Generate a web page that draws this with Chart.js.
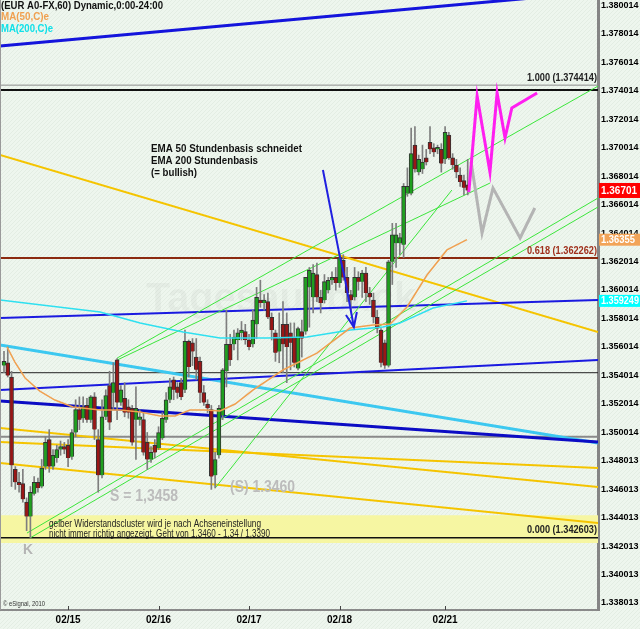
<!DOCTYPE html>
<html>
<head>
<meta charset="utf-8">
<script src="https://cdn.jsdelivr.net/npm/chart.js@4"></script>
<style>
  html, body { margin: 0; padding: 0; background: #eef5ee; }
  canvas { display: block; }
</style>
</head>
<body>
<canvas id="chart" width="640" height="629"></canvas>
<script>
// EUR/USD 60 min (eSignal) - hourly candles, index 0 = first bar on screen

const opens = [
  1.3547,1.3549,1.3539,1.3474,1.3465,1.3464,1.3451,1.3441,1.3457,1.3465,
  1.3462,1.3476,1.3495,1.3476,1.3482,1.3488,1.3490,1.3491,1.3483,1.3500,
  1.3516,1.3510,1.3519,1.3509,1.3525,1.3495,1.3470,1.3511,1.3533,1.3528,
  1.3551,1.3521,1.3524,1.3518,1.3517,1.3509,1.3509,1.3509,1.3493,1.3481,
  1.3491,1.3489,1.3496,1.3509,1.3523,1.3537,1.3532,1.3535,1.3530,1.3564,
  1.3563,1.3553,1.3550,1.3528,1.3520,1.3516,1.3470,1.3484,1.3512,1.3543,
  1.3562,1.3562,1.3565,1.3570,1.3571,1.3565,1.3562,1.3576,1.3593,1.3591,
  1.3592,1.3581,1.3570,1.3557,1.3576,1.3576,1.3570,1.3567,1.3545,1.3571,
  1.3571,1.3602,1.3595,1.3611,1.3595,1.3593,1.3600,1.3607,1.3609,1.3605,
  1.3621,1.3609,1.3597,1.3595,1.3609,1.3606,1.3612,1.3598,1.3593,1.3581,
  1.3572,1.3563,1.3547,1.3620,1.3633,1.3633,1.3632,1.3668,1.3668,1.3702,
  1.3683,1.3685,1.3693,1.3704,1.3700,1.3699,1.3699,1.3692,1.3709,1.3693,
  1.3688,1.3681,1.3677,1.3674
];
const highs = [
  1.3557,1.3560,1.3543,1.3476,1.3472,1.3474,1.3454,1.3462,1.3469,1.3468,
  1.3481,1.3497,1.3502,1.3488,1.3491,1.3494,1.3493,1.3495,1.3502,1.3523,
  1.3525,1.3525,1.3524,1.3526,1.3528,1.3502,1.3523,1.3530,1.3543,1.3549,
  1.3552,1.3533,1.3535,1.3523,1.3519,1.3532,1.3516,1.3514,1.3500,1.3490,
  1.3495,1.3504,1.3514,1.3528,1.3538,1.3539,1.3535,1.3538,1.3572,1.3565,
  1.3566,1.3566,1.3553,1.3533,1.3523,1.3519,1.3486,1.3519,1.3545,1.3586,
  1.3569,1.3572,1.3573,1.3578,1.3576,1.3569,1.3586,1.3602,1.3607,1.3597,
  1.3598,1.3584,1.3572,1.3584,1.3592,1.3584,1.3577,1.3577,1.3574,1.3579,
  1.3609,1.3616,1.3618,1.3619,1.3600,1.3611,1.3609,1.3613,1.3616,1.3626,
  1.3625,1.3616,1.3600,1.3616,1.3613,1.3614,1.3616,1.3602,1.3598,1.3586,
  1.3573,1.3565,1.3621,1.3647,1.3647,1.3640,1.3675,1.3686,1.3714,1.3715,
  1.3695,1.3702,1.3699,1.3715,1.3703,1.3702,1.3703,1.3715,1.3711,1.3696,
  1.3692,1.3686,1.3681,1.3692
];
const lows = [
  1.3542,1.3539,1.3462,1.3460,1.3458,1.3451,1.3431,1.3426,1.3456,1.3458,
  1.3461,1.3474,1.3472,1.3474,1.3479,1.3484,1.3485,1.3476,1.3481,1.3497,
  1.3502,1.3507,1.3507,1.3507,1.3495,1.3458,1.3468,1.3509,1.3502,1.3516,
  1.3509,1.3519,1.3511,1.3510,1.3491,1.3481,1.3505,1.3484,1.3474,1.3479,
  1.3482,1.3488,1.3495,1.3507,1.3521,1.3523,1.3524,1.3523,1.3528,1.3539,
  1.3547,1.3537,1.3521,1.3519,1.3514,1.3460,1.3461,1.3482,1.3509,1.3532,
  1.3547,1.3558,1.3551,1.3565,1.3562,1.3558,1.3560,1.3566,1.3588,1.3586,
  1.3580,1.3565,1.3550,1.3549,1.3542,1.3535,1.3544,1.3546,1.3544,1.3553,
  1.3569,1.3574,1.3584,1.3592,1.3584,1.3591,1.3598,1.3604,1.3600,1.3602,
  1.3607,1.3592,1.3586,1.3593,1.3600,1.3595,1.3592,1.3590,1.3577,1.3570,
  1.3546,1.3545,1.3546,1.3604,1.3616,1.3625,1.3623,1.3666,1.3667,1.3683,
  1.3681,1.3682,1.3688,1.3696,1.3694,1.3696,1.3683,1.3689,1.3692,1.3685,
  1.3679,1.3673,1.3667,1.3667
];
const closes = [
  1.3550,1.3540,1.3477,1.3465,1.3463,1.3453,1.3441,1.3458,1.3465,1.3461,
  1.3475,1.3493,1.3476,1.3484,1.3488,1.3490,1.3488,1.3482,1.3500,1.3516,
  1.3509,1.3518,1.3509,1.3525,1.3502,1.3470,1.3511,1.3526,1.3507,1.3535,
  1.3521,1.3530,1.3514,1.3514,1.3493,1.3517,1.3511,1.3486,1.3481,1.3486,
  1.3486,1.3500,1.3510,1.3523,1.3532,1.3530,1.3528,1.3525,1.3564,1.3546,
  1.3557,1.3544,1.3528,1.3521,1.3517,1.3469,1.3481,1.3517,1.3544,1.3562,
  1.3551,1.3567,1.3570,1.3572,1.3565,1.3560,1.3579,1.3595,1.3591,1.3593,
  1.3581,1.3572,1.3556,1.3566,1.3562,1.3560,1.3563,1.3549,1.3573,1.3566,
  1.3609,1.3614,1.3612,1.3595,1.3591,1.3606,1.3607,1.3609,1.3605,1.3623,
  1.3609,1.3598,1.3593,1.3609,1.3606,1.3612,1.3598,1.3595,1.3581,1.3573,
  1.3549,1.3547,1.3620,1.3639,1.3639,1.3637,1.3673,1.3673,1.3696,1.3685,
  1.3692,1.3690,1.3690,1.3699,1.3697,1.3700,1.3689,1.3711,1.3693,1.3688,
  1.3683,1.3676,1.3672,1.36701
];

// moving averages [bar, price]
const ma50 = [[0.8,1.35601],[2.9,1.35495],[5.6,1.35383],[9.5,1.35291],[13.5,1.35228],[18.3,1.35179],
  [25.5,1.35158],[30.8,1.35158],[36.1,1.35144],[41.4,1.35116],[45.4,1.35116],[49.3,1.35158],
  [53.3,1.35158],[57.3,1.35151],[61.3,1.35200],[66.0,1.35298],[74.0,1.35439],[83.0,1.35558],
  [91.8,1.35734],[97.9,1.35755],[102.4,1.35762],[106.9,1.35882],[112.2,1.36107],[117.5,1.36283],[122.8,1.36355]];
const ma200 = [[-1.06,1.35931],[12.2,1.35889],[25.5,1.35847],[36.1,1.35769],[47.5,1.35706],[57.3,1.35664],
  [69.8,1.35664],[80.4,1.35671],[91.8,1.35720],[100.5,1.35741],[105.0,1.35769],[113.8,1.35875],[122.8,1.359249]];

// hand drawn trend lines [bar, price]
const blueTop    = [[-1.06,1.37717],[157.56,1.38096]];
const yellowHigh = [[-1.06,1.36950],[157.56,1.35706]];
const blueA      = [[-1.06,1.35804],[157.56,1.35931]];
const blueB      = [[-1.06,1.35298],[157.56,1.35509]];
const cyanThick  = [[-1.06,1.35615],[157.56,1.34926]];
const blueThick  = [[-1.06,1.35221],[157.56,1.34933]];
const yellowA    = [[-1.06,1.35031],[157.56,1.34616]];
const yellowB    = [[-1.06,1.34933],[157.56,1.34750]];
const yellowC    = [[-1.06,1.34785],[157.56,1.34363]];
const greenA     = [[30.0,1.35523],[157.56,1.37435]];
const greenB     = [[30.0,1.35509],[128.9,1.36753]];
const greenC1    = [[6.1,1.34293],[157.56,1.36648]];
const greenC2    = [[6.9,1.34258],[157.56,1.36585]];
const greenD     = [[56.0,1.34609],[118.8,1.36704]];

// scenarios + arrow
const scenarioUp   = [[123.3,1.36690],[125.5,1.37365],[128.9,1.36831],[130.8,1.37386],[132.9,1.37070],[134.7,1.37281],[141.4,1.37386]];
const scenarioDown = [[123.9,1.36901],[126.8,1.36402],[129.7,1.36718],[136.9,1.36367],[140.8,1.36578]];
const arrowLine = [[84.6,1.36845],[88.9,1.36261],[90.5,1.36072],[92.8,1.35741]];
const arrowHead = [[90.7,1.35826],[92.8,1.35741],[93.6,1.35847]];

// horizontal levels
const hLevels = [1.374414, 1.37407, 1.362262, 1.3542, 1.3497, 1.342603];
const fibLevels = [1.374414, 1.362262, 1.342603];
const fibNames = ['1.000', '0.618', '0.000'];
const zoneTop = 1.34418, zoneBottom = 1.34223;

const dateTicks = [17, 41, 65, 89, 117];
const dateLabels = ['02/15', '02/16', '02/17', '02/18', '02/21'];
const priceTicks = [1.380014,1.378014,1.376014,1.374014,1.372014,1.370014,1.368014,1.366014,1.364014,
  1.362014,1.360014,1.358014,1.356014,1.354014,1.352014,1.350014,1.348013,1.346013,1.344013,
  1.342013,1.340013,1.338013];
const priceLabels = ['1.380014','1.378014','1.376014','1.374014','1.372014','1.370014','1.368014','1.366014','1.364014',
  '1.362014','1.360014','1.358014','1.356014','1.354014','1.352014','1.350014','1.348013','1.346013','1.344013',
  '1.342013','1.340013','1.338013'];

const X_MIN = -1.06, X_MAX = 157.56;
const Y_MIN = 1.33752, Y_MAX = 1.3804;

const pts = arr => arr.map(p => ({ x: p[0], y: p[1] }));

function line(data, color, width, order, extra) {
  return Object.assign({
    type: 'line', data: pts(data), borderColor: color, borderWidth: width,
    pointRadius: 0, tension: 0, fill: false, order: order
  }, extra || {});
}

const hStyles = [['#8c8c8c', 1], ['#111111', 2], ['#8b2a10', 2], ['#222222', 1], ['#8a8a8a', 2], ['#111111', 1.5]];

const datasets = [];
// yellow resistance cluster
datasets.push(line([[X_MIN, zoneTop], [X_MAX, zoneTop]], 'rgba(0,0,0,0)', 0, 100,
  { fill: { value: zoneBottom }, backgroundColor: '#f6f6a2' }));
hLevels.forEach((v, i) => {
  datasets.push(line([[X_MIN, v], [X_MAX, v]], hStyles[i][0], hStyles[i][1], 60));
});
datasets.push(line(blueTop, '#1414dc', 3, 55));
datasets.push(line(yellowHigh, '#f5c400', 2, 55));
datasets.push(line(yellowA, '#f5c400', 2, 55));
datasets.push(line(yellowB, '#f5c400', 2, 55));
datasets.push(line(yellowC, '#f5c400', 2, 55));
datasets.push(line(blueA, '#1a1ae0', 2, 54));
datasets.push(line(blueB, '#1a1ae0', 2, 54));
datasets.push(line(cyanThick, '#3cc8f0', 3, 54));
datasets.push(line(blueThick, '#0c0cc4', 3, 53));
[greenA, greenB, greenC1, greenC2, greenD].forEach(g => datasets.push(line(g, '#3ce63c', 1, 52)));

// candles: wick + body
datasets.push({
  type: 'bar', order: 31, grouped: false, barThickness: 1,
  data: highs.map((h, i) => ({ x: i, y: [lows[i], h] })),
  backgroundColor: '#7e7e7e', borderWidth: 0
});
datasets.push({
  type: 'bar', order: 30, grouped: false, barThickness: 4, minBarLength: 2,
  data: opens.map((o, i) => ({ x: i, y: [o, closes[i]] })),
  backgroundColor: opens.map((o, i) => closes[i] >= o ? '#1fa01f' : '#9a1616'),
  borderColor: '#333333', borderWidth: 1
});

datasets.push(line(ma200, '#2ee0f0', 1.5, 10));
datasets.push(line(ma50, '#f0a050', 1.5, 9));
datasets.push(line(scenarioDown, '#b4b4b4', 3, 5));
datasets.push(line(scenarioUp, '#ff1ef0', 3, 4));
datasets.push(line(arrowLine, '#2020e0', 2, 3));
datasets.push(line(arrowHead, '#2020e0', 2, 3));

function txt(ctx, s, x, y, font, color, w, right) {
  ctx.save();
  ctx.font = font;
  ctx.fillStyle = color;
  ctx.textBaseline = 'middle';
  ctx.textAlign = 'left';
  const m = ctx.measureText(s).width;
  const k = w ? w / m : 1;
  ctx.translate(x, y);
  ctx.scale(k, 1);
  ctx.fillText(s, right ? -m : 0, 0);
  ctx.restore();
}

const F = '"Liberation Sans", Arial, sans-serif';

const backdrop = {
  id: 'backdrop',
  beforeDraw(chart) {
    const ctx = chart.ctx;
    const p = document.createElement('canvas');
    p.width = 4; p.height = 4;
    const pc = p.getContext('2d');
    pc.fillStyle = '#eef6ee'; pc.fillRect(0, 0, 4, 4);
    pc.fillStyle = '#e3ede3';
    for (let i = 0; i < 4; i++) pc.fillRect(i, 3 - i, 1, 1);
    ctx.save();
    ctx.fillStyle = ctx.createPattern(p, 'repeat');
    ctx.fillRect(0, 0, chart.width, chart.height);
    ctx.restore();
  },
  beforeDatasetsDraw(chart) {
    const ctx = chart.ctx;
    txt(ctx, 'Tagesausblick', 146, 300, 'bold 40px ' + F, 'rgba(0,0,0,0.035)', 270);
    txt(ctx, '.de', 418, 310, 'bold 10px ' + F, 'rgba(0,0,0,0.05)', 14);
  },
  afterDatasetsDraw(chart) {
    const ctx = chart.ctx;
    const ys = chart.scales.y;
    txt(ctx, '(EUR A0-FX,60) Dynamic,0:00-24:00', 1, 6, 'bold 10px ' + F, '#111', 162);
    txt(ctx, 'MA(50,C)e', 1, 17.5, 'bold 10px ' + F, '#f0a050', 48);
    txt(ctx, 'MA(200,C)e', 1, 29.5, 'bold 10px ' + F, '#10e0e8', 52);

    txt(ctx, 'EMA 50 Stundenbasis schneidet', 151, 149, 'bold 11px ' + F, '#111', 151);
    txt(ctx, 'EMA 200 Stundenbasis', 151, 161, 'bold 11px ' + F, '#111', 107);
    txt(ctx, '(= bullish)', 151, 173, 'bold 11px ' + F, '#111', 46);

    txt(ctx, 'S = 1,3458', 110, 497, 'bold 16px ' + F, '#bcbcbc', 68);
    txt(ctx, '(S) 1.3460', 230, 488, 'bold 16px ' + F, '#bcbcbc', 65);
    txt(ctx, 'K', 23, 550, 'bold 15px ' + F, '#b4b4b4', 10);

    txt(ctx, 'gelber Widerstandscluster wird je nach Achseneinstellung', 49, 524, '10px ' + F, '#222', 212);
    txt(ctx, 'nicht immer richtig angezeigt. Geht von 1,3460 - 1,34 / 1,3390', 49, 534, '10px ' + F, '#222', 221);
    txt(ctx, '\u00a9 eSignal, 2010', 3, 604, '7px ' + F, '#333', 42);

    const fibColors = ['#222', '#a0301c', '#222'];
    fibLevels.forEach((v, i) => {
      const y = ys.getPixelForValue(v) - 7;
      txt(ctx, fibNames[i] + ' (' + v.toFixed(6) + ')', 597, y, 'bold 10px ' + F, fibColors[i], 70, true);
    });
  },
  afterDraw(chart) {
    const ctx = chart.ctx;
    const ys = chart.scales.y;
    const xs = chart.scales.x;
    const a = chart.chartArea;
    ctx.save();
    ctx.strokeStyle = '#9a9a9a';
    ctx.lineWidth = 1;
    ctx.beginPath(); ctx.moveTo(0.5, a.top); ctx.lineTo(0.5, a.bottom); ctx.stroke();
    // small date tick marks on the bottom frame
    ctx.strokeStyle = '#444';
    dateTicks.forEach(v => {
      const x = Math.round(xs.getPixelForValue(v)) + 0.5;
      ctx.beginPath(); ctx.moveTo(x, a.bottom - 4); ctx.lineTo(x, a.bottom); ctx.stroke();
    });
    ctx.restore();

    const boxes = [
      [closes[closes.length - 1], '#ff0000', '1.36701', 7.5, 36],
      [ma50[ma50.length - 1][1], '#f2a458', '1.36355', 6, 34],
      [ma200[ma200.length - 1][1], '#00ffff', '1.359249', 6, 38]
    ];
    boxes.forEach(b => {
      const y = ys.getPixelForValue(b[0]);
      ctx.fillStyle = b[1];
      ctx.fillRect(599, y - b[3], 41, b[3] * 2);
      txt(ctx, b[2], 601, y + 0.5, 'bold 10px ' + F, '#ffffff', b[4]);
    });
  }
};

new Chart(document.getElementById('chart'), {
  type: 'line',
  data: { datasets },
  options: {
    responsive: false,
    devicePixelRatio: 1,
    animation: false,
    events: [],
    layout: { padding: 0 },
    plugins: { legend: { display: false }, tooltip: { enabled: false } },
    scales: {
      x: {
        type: 'linear', min: X_MIN, max: X_MAX, offset: false, position: 'bottom',
        afterBuildTicks: s => { s.ticks = dateTicks.map(v => ({ value: v })); },
        afterFit: s => { s.height = 19; s.paddingLeft = 0; s.paddingRight = 0; },
        ticks: {
          autoSkip: false, maxRotation: 0, padding: -4, color: '#000',
          font: { family: 'Liberation Sans', weight: 'bold', size: 10 },
          callback: (v, i) => dateLabels[i]
        },
        grid: { display: false },
        border: { display: true, color: '#8a8a8a', width: 2 }
      },
      y: {
        type: 'linear', min: Y_MIN, max: Y_MAX, position: 'right',
        afterBuildTicks: s => { s.ticks = priceTicks.map(v => ({ value: v })); },
        afterFit: s => { s.width = 42; s.paddingTop = 0; s.paddingBottom = 0; },
        ticks: {
          autoSkip: false, padding: -5, color: '#000',
          font: { family: 'Liberation Sans', weight: 'bold', size: 9 },
          callback: (v, i) => priceLabels[i]
        },
        grid: { display: false },
        border: { display: true, color: '#858585', width: 3 }
      }
    }
  },
  plugins: [backdrop]
});
</script>
</body>
</html>
